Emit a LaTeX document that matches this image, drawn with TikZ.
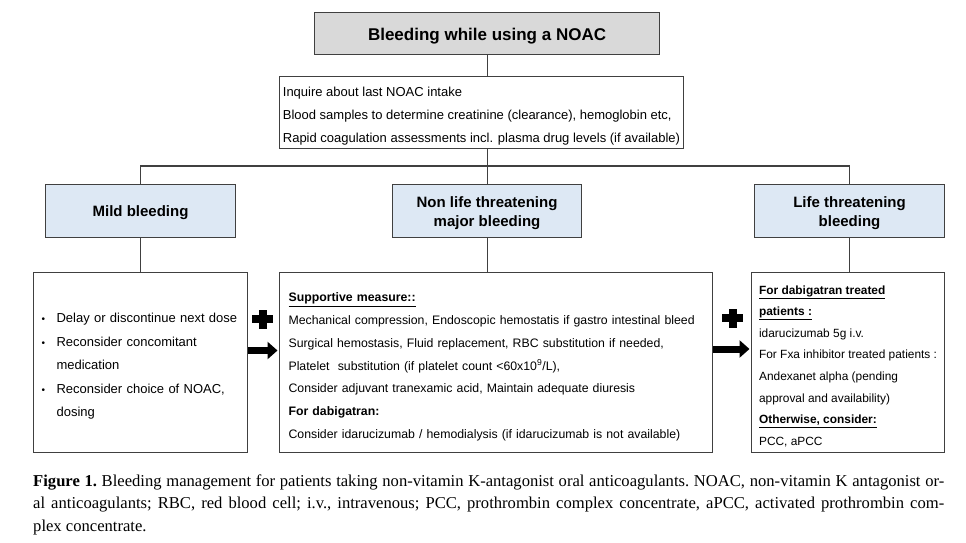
\documentclass[tikz,border=0pt]{standalone}
\usepackage{fontspec}
\setmainfont{Liberation Serif}
\setsansfont{Liberation Sans}
\usetikzlibrary{arrows.meta,calc}
\definecolor{linec}{HTML}{404040}
\definecolor{titlefill}{HTML}{D9D9D9}
\definecolor{catfill}{HTML}{DDE8F4}
\begin{document}
\begin{tikzpicture}[x=1pt,y=-1pt,
  basebox/.style={draw=linec,line width=1.1pt,rectangle,anchor=north west,inner ysep=0pt,font=\sffamily},
  titlebox/.style={basebox,fill=titlefill,font=\sffamily\bfseries\fontsize{17}{20}\selectfont},
  catbox/.style={basebox,fill=catfill,align=center,minimum width=190pt,minimum height=53pt,font=\sffamily\bfseries\fontsize{15}{19}\selectfont},
  contentbox/.style={basebox,fill=white,minimum height=180pt},
  conn/.style={draw=linec,line width=1.1pt},
  bigarrow/.style={draw=black,line width=7pt,-{Triangle[length=10pt,width=17pt]},shorten >=1.5pt},
  plusbar/.style={fill=black}
]
\useasboundingbox (0,0) rectangle (966,543);
\fill[white] (0,0) rectangle (966,543);

\node[titlebox,minimum width=345pt,minimum height=42pt] (title) at (314,12) {\rule{0pt}{17pt}Bleeding while using a NOAC};

\node[basebox,align=left,minimum width=403pt,minimum height=72pt,font=\sffamily\fontsize{13}{23}\selectfont] (info) at (279,76)
{\rule{0pt}{17.5pt}Inquire about last NOAC intake\\
Blood samples to determine creatinine (clearance), hemoglobin etc,\\
Rapid coagulation assessments incl. plasma drug levels (if available)};

\node[catbox] (mildcat) at (45,184) {\rule{0pt}{15pt}Mild bleeding};
\node[catbox,minimum width=189pt] (noncat) at (392,184) {\rule{0pt}{15pt}Non life threatening\\major bleeding};
\node[catbox] (lifecat) at (754,184) {\rule{0pt}{15pt}Life threatening\\bleeding};

\node[contentbox,minimum width=214pt,text width=194pt,inner xsep=10pt,align=left,font=\sffamily\fontsize{13}{23.4}\selectfont] (mildbox) at (33,272)
{\rule{0pt}{17pt}\makebox[13pt][l]{\hspace*{-2pt}\fontsize{10}{10}\selectfont\textbullet}Delay or discontinue next dose\\
\makebox[13pt][l]{\hspace*{-2pt}\fontsize{10}{10}\selectfont\textbullet}Reconsider concomitant\\
\hspace*{13pt}medication\\
\makebox[13pt][l]{\hspace*{-2pt}\fontsize{10}{10}\selectfont\textbullet}Reconsider choice of NOAC,\\
\hspace*{13pt}dosing};

\node[contentbox,minimum width=433pt,text width=415pt,inner xsep=9pt,align=left,font=\sffamily\fontsize{12.3}{22.7}\selectfont] (midbox) at (279,272)
{\rule{0pt}{17.5pt}\underline{\textbf{Supportive measure::}}\\
Mechanical compression, Endoscopic hemostatis if gastro intestinal bleed\\
Surgical hemostasis, Fluid replacement, RBC substitution if needed,\\
Platelet\ \ substitution (if platelet count <60x10\textsuperscript{9}/L),\\
Consider adjuvant tranexamic acid, Maintain adequate diuresis\\
\textbf{For dabigatran:}\\
Consider idarucizumab / hemodialysis (if idarucizumab is not available)};

\node[contentbox,minimum width=193pt,align=left,font=\sffamily\fontsize{11.9}{21.6}\selectfont] (lifebox) at (751,272)
{\rule{0pt}{16pt}\underline{\textbf{For dabigatran treated}}\\
\underline{\textbf{patients :}}\\
idarucizumab 5g i.v.\\
For Fxa inhibitor treated patients :\\
Andexanet alpha (pending\\
approval and availability)\\
\underline{\textbf{Otherwise, consider:}}\\
PCC, aPCC};

% connectors
\coordinate (hub) at (487,166);
\draw[conn] (title.south) -- (title.south |- info.north);
\draw[conn] (noncat.north |- info.south) -- (noncat.north);
\draw[conn] (mildcat.north) |- (hub) -| (lifecat.north);
\draw[conn] (mildcat.south) -- (mildcat.south |- mildbox.north);
\draw[conn] (noncat.south) -- (noncat.south |- midbox.north);
\draw[conn] (lifecat.south) -- (lifecat.south |- lifebox.north);

% plus signs
\foreach \cx/\cy in {262.5/319, 732.5/318} {
  \fill[plusbar] (\cx-10.5,\cy-4) rectangle (\cx+10.5,\cy+4);
  \fill[plusbar] (\cx-4,\cy-9.5) rectangle (\cx+4,\cy+9.5);
}

% big arrows
\coordinate (arrowL) at (0,350.5);
\coordinate (arrowR) at (0,349);
\draw[bigarrow] (mildbox.east |- arrowL) -- (midbox.west |- arrowL);
\draw[bigarrow] (midbox.east |- arrowR) -- (lifebox.west |- arrowR);

% caption
\node[anchor=north west,text width=911pt,align=justify,inner sep=0pt,font=\rmfamily\frenchspacing\fontsize{16.6}{22.5}\selectfont] (caption) at (33,474.5)
{\textbf{Figure 1.} Bleeding management for patients taking non-vitamin K-antagonist oral anticoagulants. NOAC, non-vitamin K antagonist or-\linebreak al anticoagulants; RBC, red blood cell; i.v., intravenous; PCC, prothrombin complex concentrate, aPCC, activated prothrombin com-\linebreak plex concentrate.};
\end{tikzpicture}
\end{document}
